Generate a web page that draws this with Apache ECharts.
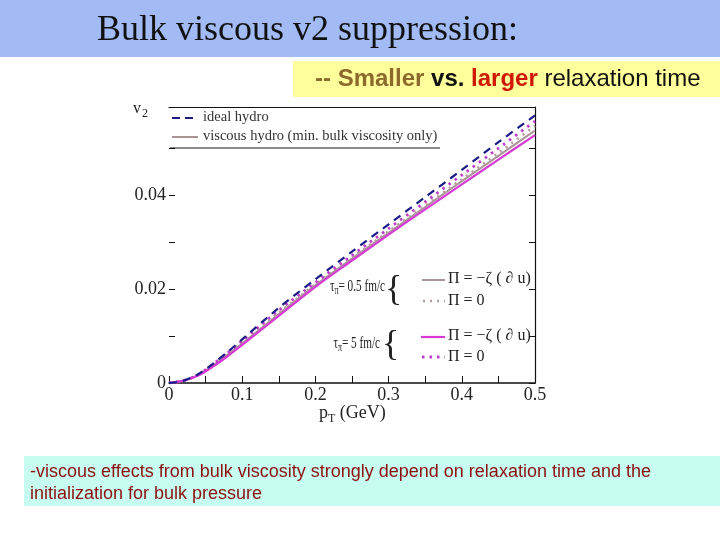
<!DOCTYPE html>
<html lang="en">
<head>
    <meta charset="UTF-8">
    <title>Bulk viscous v2 suppression</title>
    <script src="https://cdn.jsdelivr.net/npm/echarts@6/dist/echarts.min.js"></script>
    <style>
        html, body { margin: 0; padding: 0; background: #fff; }
    </style>
</head>
<body>
<div id="main" style="width: 720px;height:540px;"></div>
<script type="text/javascript">

    // pT grid (GeV)
    var pT = [0, 0.02, 0.04, 0.06, 0.08, 0.1, 0.15, 0.2, 0.25, 0.3, 0.35, 0.4, 0.45, 0.5];
    // v2 curves
    var idealHydro = [0, 0.0005, 0.0019, 0.0041, 0.0066, 0.0093, 0.0160, 0.0221, 0.0280, 0.0338, 0.0396, 0.0454, 0.0513, 0.0570];
    var tau05Bulk = [0, 0.0005, 0.0017, 0.0037, 0.0060, 0.0084, 0.0147, 0.0208, 0.0265, 0.0320, 0.0375, 0.0430, 0.0484, 0.0538];
    var tau05Zero = [0, 0.0005, 0.0018, 0.0039, 0.0062, 0.0087, 0.0150, 0.0210, 0.0267, 0.0323, 0.0378, 0.0434, 0.0490, 0.0548];
    var tau5Bulk = [0, 0.0005, 0.0016, 0.0035, 0.0057, 0.0081, 0.0143, 0.0205, 0.0261, 0.0316, 0.0370, 0.0423, 0.0476, 0.0528];
    var tau5Zero = [0, 0.0005, 0.0018, 0.0040, 0.0064, 0.0090, 0.0155, 0.0214, 0.0272, 0.0329, 0.0386, 0.0443, 0.0500, 0.0558];

    var yLabels = [0, 0.02, 0.04];
    var xLabels = [0, 0.1, 0.2, 0.3, 0.4, 0.5];

    function pairs(xs, ys) {
        return xs.map(function (x, i) { return [x, ys[i]]; });
    }
    function near(a, list) {
        for (var i = 0; i < list.length; i++) {
            if (Math.abs(a - list[i]) < 1e-6) return list[i];
        }
        return null;
    }

    var serif = '"Liberation Serif", "DejaVu Serif", serif';
    var sans = '"Liberation Sans", Arial, sans-serif';

    var C_NAVY = '#1c1c88';
    var C_GRAY = '#a89494';
    var C_GRAYDOT = '#b49c9c';
    var C_MAG = '#d83ad6';
    var C_MAGDOT = '#c03ccc';

    var myChart = echarts.init(document.getElementById('main'));

    var option = {
        animation: false,
        grid: { left: 169, right: 185, top: 107, bottom: 157 },
        xAxis: [{
            type: 'value', min: 0, max: 0.5, interval: 0.05, position: 'bottom',
            axisLine: { show: true, onZero: false, lineStyle: { color: '#111', width: 1.5 } },
            axisTick: { show: true, inside: true, length: 7, lineStyle: { color: '#111' } },
            splitLine: { show: false },
            axisLabel: {
                margin: 3, color: '#222', fontFamily: serif, fontSize: 18,
                formatter: function (v) {
                    var m = near(v, xLabels);
                    return m === null ? '' : String(m);
                }
            }
        }, {
            type: 'value', min: 0, max: 0.5, position: 'top',
            axisLine: { show: true, onZero: false, lineStyle: { color: '#111', width: 1.2 } },
            axisTick: { show: false }, axisLabel: { show: false }, splitLine: { show: false }
        }],
        yAxis: [{
            type: 'value', min: 0, max: 0.0588, interval: 0.01, position: 'left',
            axisLine: { show: false, onZero: false },
            axisTick: { show: true, inside: true, length: 6, lineStyle: { color: '#111' } },
            splitLine: { show: false },
            axisLabel: {
                margin: 3, color: '#222', fontFamily: serif, fontSize: 18,
                formatter: function (v) {
                    var m = near(v, yLabels);
                    return m === null ? '' : (m === 0 ? '0' : m.toFixed(2));
                }
            }
        }, {
            type: 'value', min: 0, max: 0.0588, interval: 0.01, position: 'right',
            axisLine: { show: true, onZero: false, lineStyle: { color: '#111', width: 1.2 } },
            axisTick: { show: true, inside: true, length: 6, lineStyle: { color: '#111' } },
            axisLabel: { show: false }, splitLine: { show: false }
        }],
        series: [
            { name: 'ideal hydro', type: 'line', smooth: 0.3, showSymbol: false, z: 5,
              data: pairs(pT, idealHydro), lineStyle: { color: C_NAVY, width: 2.2, type: [8, 6] } },
            { name: 'tau 0.5 bulk', type: 'line', smooth: 0.3, showSymbol: false, z: 3,
              data: pairs(pT, tau05Bulk), lineStyle: { color: C_GRAY, width: 2 } },
            { name: 'tau 0.5 zero', type: 'line', smooth: 0.3, showSymbol: false, z: 3,
              data: pairs(pT, tau05Zero), lineStyle: { color: C_GRAYDOT, width: 2.6, type: [2, 5] } },
            { name: 'tau 5 bulk', type: 'line', smooth: 0.3, showSymbol: false, z: 4,
              data: pairs(pT, tau5Bulk), lineStyle: { color: C_MAG, width: 2.2 } },
            { name: 'tau 5 zero', type: 'line', smooth: 0.3, showSymbol: false, z: 4,
              data: pairs(pT, tau5Zero), lineStyle: { color: C_MAGDOT, width: 2.8, type: [2.5, 5] } }
        ],
        graphic: [
            // slide header band
            { type: 'rect', left: 0, top: 0, shape: { width: 720, height: 57 }, style: { fill: '#a3bbf5' }, z: -1 },
            { type: 'text', left: 97, top: 13,
              style: { text: 'Bulk viscous v2 suppression:', font: '36px ' + serif, fill: '#111' } },
            // subtitle box
            { type: 'rect', left: 293, top: 61, shape: { width: 427, height: 36 }, style: { fill: '#ffff9c' }, z: -1 },
            { type: 'text', left: 315, top: 67,
              style: {
                  text: '{a|-- Smaller }{b|vs. }{c|larger }{d|relaxation time}',
                  rich: {
                      a: { fontFamily: sans, fontSize: 24, fontWeight: 'bold', fill: '#8c6a2c' },
                      b: { fontFamily: sans, fontSize: 24, fontWeight: 'bold', fill: '#111' },
                      c: { fontFamily: sans, fontSize: 24, fontWeight: 'bold', fill: '#d01808' },
                      d: { fontFamily: sans, fontSize: 24, fill: '#111' }
                  }
              } },
            // bottom note box
            { type: 'rect', left: 24, top: 456, shape: { width: 696, height: 50 }, style: { fill: '#c6fdf0' }, z: -1 },
            { type: 'text', left: 30, top: 461,
              style: {
                  text: '-viscous effects from bulk viscosity strongly depend on relaxation time and the\ninitialization for bulk pressure',
                  font: '18px ' + sans, fill: '#8e1010', lineHeight: 22
              } },
            // axis titles
            { type: 'text', left: 133, top: 101,
              style: { text: '{v|v}{s|2}', rich: { v: { fontFamily: serif, fontSize: 16, fill: '#222' },
                       s: { fontFamily: serif, fontSize: 12, fill: '#222', padding: [10, 0, 0, 1] } } } },
            { type: 'text', left: 319, top: 404,
              style: { text: '{p|p}{s|T}{p| (GeV)}', rich: { p: { fontFamily: serif, fontSize: 18, fill: '#222' },
                       s: { fontFamily: serif, fontSize: 12, fill: '#222', padding: [12, 0, 0, 0] } } } },
            // upper legend
            { type: 'line', shape: { x1: 172, y1: 118, x2: 198, y2: 118 },
              style: { stroke: C_NAVY, lineWidth: 2.2, lineDash: [8, 5] } },
            { type: 'text', left: 203, top: 110, style: { text: 'ideal hydro', font: '14.5px ' + serif, fill: '#333' } },
            { type: 'line', shape: { x1: 172, y1: 137, x2: 198, y2: 137 },
              style: { stroke: C_GRAY, lineWidth: 2 } },
            { type: 'text', left: 203, top: 129,
              style: { text: 'viscous hydro (min. bulk viscosity only)', font: '14.5px ' + serif, fill: '#333' } },
            { type: 'line', shape: { x1: 170, y1: 148, x2: 440, y2: 148 }, style: { stroke: '#111', lineWidth: 1 } },
            // tau = 0.5 fm/c group
            { type: 'text', x: 385, y: 276, scaleX: 0.66,
              style: { text: '{t|τ}{s|π}{t|= 0.5 fm/c}', align: 'right',
                       rich: { t: { fontFamily: serif, fontSize: 17, fill: '#222' },
                       s: { fontFamily: serif, fontSize: 12, fill: '#222', padding: [9, 0, 0, 0] } } } },
            { type: 'text', left: 385, top: 273, style: { text: '{', font: '36px ' + serif, fill: '#222' } },
            { type: 'line', shape: { x1: 422, y1: 280, x2: 445, y2: 280 }, style: { stroke: C_GRAY, lineWidth: 2 } },
            { type: 'text', left: 448, top: 271, style: { text: 'Π = −ζ ( ∂ u)', font: '16px ' + serif, fill: '#222' } },
            { type: 'line', shape: { x1: 423, y1: 301, x2: 445, y2: 301 },
              style: { stroke: C_GRAYDOT, lineWidth: 2.4, lineDash: [2, 5] } },
            { type: 'text', left: 448, top: 293, style: { text: 'Π = 0', font: '16px ' + serif, fill: '#222' } },
            // tau = 5 fm/c group
            { type: 'text', x: 380, y: 333, scaleX: 0.66,
              style: { text: '{t|τ}{s|π}{t|= 5 fm/c}', align: 'right',
                       rich: { t: { fontFamily: serif, fontSize: 17, fill: '#222' },
                       s: { fontFamily: serif, fontSize: 12, fill: '#222', padding: [9, 0, 0, 0] } } } },
            { type: 'text', left: 382, top: 328, style: { text: '{', font: '36px ' + serif, fill: '#222' } },
            { type: 'line', shape: { x1: 421, y1: 337, x2: 445, y2: 337 }, style: { stroke: C_MAG, lineWidth: 2.2 } },
            { type: 'text', left: 448, top: 328, style: { text: 'Π = −ζ ( ∂ u)', font: '16px ' + serif, fill: '#222' } },
            { type: 'line', shape: { x1: 422, y1: 357, x2: 445, y2: 357 },
              style: { stroke: C_MAGDOT, lineWidth: 2.8, lineDash: [2.5, 5] } },
            { type: 'text', left: 448, top: 349, style: { text: 'Π = 0', font: '16px ' + serif, fill: '#222' } }
        ]
    };

    myChart.setOption(option);

</script>
</body>
</html>
